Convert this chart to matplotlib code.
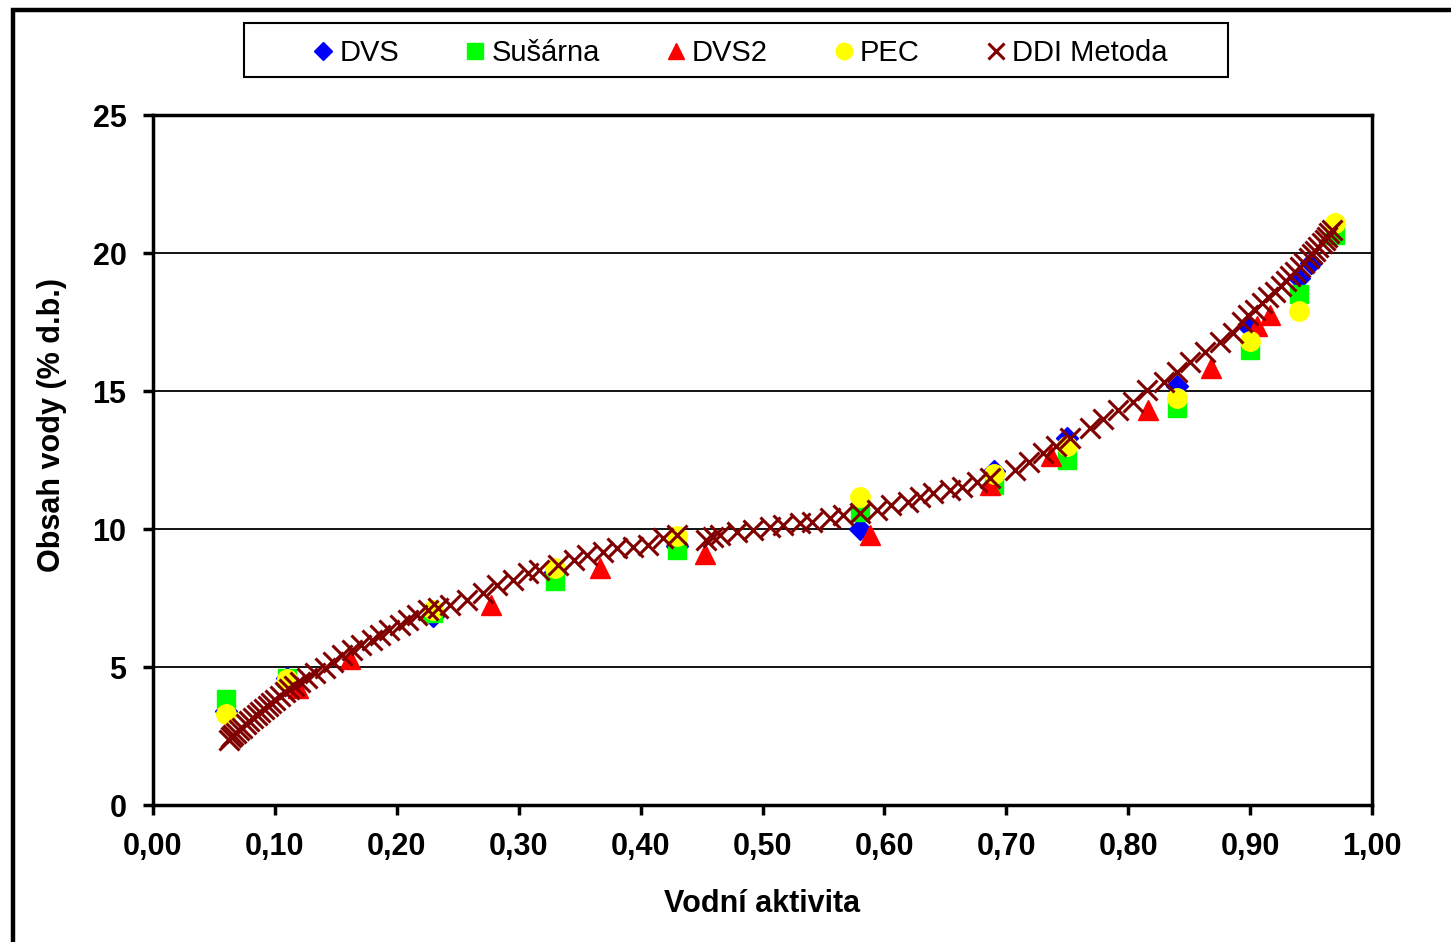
import matplotlib
matplotlib.use("Agg")
import matplotlib.pyplot as plt
import matplotlib.patches as patches
from matplotlib.ticker import FuncFormatter

plt.rcParams['font.family'] = ['Liberation Sans', 'DejaVu Sans']

# --- sorption isotherm data (aw, water content % d.b.) ---
dvs_aw = [0.06, 0.11, 0.23, 0.33, 0.43, 0.58, 0.69, 0.75, 0.84, 0.90, 0.94, 0.95]
dvs_mc = [3.4, 4.6, 6.85, 8.45, 9.4, 10.0, 12.1, 13.3, 15.2, 17.3, 19.1, 19.65]

susarna_aw = [0.06, 0.11, 0.23, 0.33, 0.43, 0.58, 0.69, 0.75, 0.84, 0.90, 0.94, 0.97]
susarna_mc = [3.85, 4.6, 6.95, 8.1, 9.25, 10.6, 11.6, 12.5, 14.4, 16.5, 18.5, 20.65]

dvs2_aw = [0.119, 0.162, 0.277, 0.367, 0.453, 0.588, 0.687, 0.737, 0.816, 0.868, 0.906, 0.916]
dvs2_mc = [4.25, 5.3, 7.25, 8.6, 9.1, 9.8, 11.6, 12.65, 14.3, 15.85, 17.35, 17.75]

pec_aw = [0.06, 0.11, 0.23, 0.33, 0.43, 0.58, 0.69, 0.75, 0.84, 0.90, 0.94, 0.97]
pec_mc = [3.3, 4.55, 7.05, 8.6, 9.75, 11.15, 12.0, 13.0, 14.75, 16.8, 17.9, 21.1]

ddi_aw = [0.062, 0.064, 0.066, 0.068, 0.071, 0.073, 0.076, 0.079, 0.082, 0.085,
          0.088, 0.091, 0.094, 0.097, 0.100, 0.104, 0.108, 0.112, 0.116, 0.121,
          0.126, 0.133, 0.141, 0.148, 0.155, 0.163, 0.171, 0.180, 0.186, 0.194,
          0.203, 0.209, 0.217, 0.226, 0.234, 0.244, 0.258, 0.271, 0.282, 0.295,
          0.308, 0.317, 0.332, 0.345, 0.356, 0.369, 0.381, 0.394, 0.406, 0.418,
          0.430, 0.454, 0.459, 0.465, 0.479, 0.492, 0.506, 0.517, 0.531, 0.541,
          0.555, 0.566, 0.580, 0.594, 0.605, 0.619, 0.629, 0.640, 0.654, 0.664,
          0.676, 0.687, 0.707, 0.719, 0.730, 0.741, 0.752, 0.769, 0.779, 0.792,
          0.804, 0.815, 0.829, 0.840, 0.851, 0.863, 0.875, 0.886, 0.893, 0.898,
          0.904, 0.910, 0.915, 0.920, 0.925, 0.929, 0.933, 0.937, 0.941, 0.944,
          0.948, 0.951, 0.953, 0.956, 0.959, 0.961, 0.963, 0.965, 0.967]
ddi_mc = [2.36, 2.45, 2.53, 2.62, 2.72, 2.80, 2.92, 3.03, 3.15, 3.27,
          3.38, 3.49, 3.60, 3.71, 3.82, 3.95, 4.08, 4.20, 4.31, 4.46,
          4.60, 4.78, 4.96, 5.18, 5.43, 5.62, 5.80, 5.98, 6.16, 6.34,
          6.52, 6.70, 6.88, 7.07, 7.14, 7.25, 7.43, 7.68, 7.97, 8.15,
          8.40, 8.50, 8.70, 8.88, 9.05, 9.17, 9.30, 9.35, 9.42, 9.67,
          9.78, 9.60, 9.71, 9.78, 9.89, 9.96, 10.07, 10.14, 10.22, 10.25,
          10.40, 10.50, 10.58, 10.69, 10.87, 10.98, 11.16, 11.30, 11.41, 11.52,
          11.70, 11.85, 12.14, 12.43, 12.75, 13.00, 13.30, 13.66, 14.00, 14.30,
          14.60, 15.04, 15.33, 15.69, 16.05, 16.41, 16.78, 17.10, 17.50, 17.75,
          17.93, 18.19, 18.40, 18.59, 18.80, 18.99, 19.17, 19.31, 19.49, 19.64,
          19.82, 19.96, 20.07, 20.22, 20.36, 20.47, 20.58, 20.72, 20.83]

x_ticks = [0.0, 0.1, 0.2, 0.3, 0.4, 0.5, 0.6, 0.7, 0.8, 0.9, 1.0]
y_ticks = [0, 5, 10, 15, 20, 25]

fig = plt.figure(figsize=(14.51, 9.42), dpi=100)
ax = fig.add_axes([0.1054, 0.1454, 0.8402, 0.7325])

ax.plot(dvs_aw, dvs_mc, linestyle='none', marker='D', ms=11, color='#0000ff',
        markeredgecolor='#0000ff', label='DVS', zorder=3)
ax.plot(susarna_aw, susarna_mc, linestyle='none', marker='s', ms=13, color='#00ff00',
        markeredgecolor='#00ff00', label='Sušárna', zorder=4)
ax.plot(dvs2_aw, dvs2_mc, linestyle='none', marker='^', ms=14, color='#ff0000',
        markeredgecolor='#ff0000', label='DVS2', zorder=5)
ax.plot(pec_aw, pec_mc, linestyle='none', marker='o', ms=14, color='#ffff00',
        markeredgecolor='#ffff00', label='PEC', zorder=6)
ax.plot(ddi_aw, ddi_mc, linestyle='none', marker='x', ms=14, mew=2.2, color='#800000',
        label='DDI Metoda', zorder=7)

ax.set_xlim(0, 1.0)
ax.set_ylim(0, 25)
ax.set_xticks(x_ticks)
ax.set_yticks(y_ticks)
ax.xaxis.set_major_formatter(FuncFormatter(lambda v, p: ('%.2f' % v).replace('.', ',')))
ax.yaxis.set_major_formatter(FuncFormatter(lambda v, p: '%d' % v))
ax.tick_params(axis='both', direction='out', length=7, width=2.5, labelsize=22)
ax.tick_params(axis='x', pad=12.5)
ax.tick_params(axis='y', pad=12)
for lbl in ax.get_xticklabels() + ax.get_yticklabels():
    lbl.set_fontweight('bold')

for s in ax.spines.values():
    s.set_linewidth(2.5)
    s.set_color('black')

ax.yaxis.grid(True, color='black', linewidth=1.3)
ax.set_axisbelow(True)

ax.set_xlabel('Vodní aktivita', fontsize=22, fontweight='bold')
ax.set_ylabel('Obsah vody (% d.b.)', fontsize=22, fontweight='bold')
ax.xaxis.set_label_coords(0.5, -0.122)
ax.yaxis.set_label_coords(-0.0705, 0.551)

# legend entries without frame, the box is drawn separately (wide side padding)
leg = fig.legend(loc='center', bbox_to_anchor=(741 / 1451, 1 - 53 / 942), ncol=5,
                 fontsize=21, frameon=False,
                 handlelength=0.6, handletextpad=0.25, columnspacing=2.31,
                 borderpad=0, borderaxespad=0)
for h in leg.legend_handles:
    h.set_markersize(h.get_markersize() * 0.85)

fig.patches.append(patches.Rectangle((244 / 1451, 1 - 77 / 942), 984 / 1451, 54 / 942,
                                     transform=fig.transFigure, fill=False,
                                     edgecolor='black', linewidth=1.5))

# outer chart frame (runs off the right and bottom edges)
fig.patches.append(patches.Rectangle((12.5 / 1451, -0.05), 1.1, 1.05 - 9.5 / 942,
                                     transform=fig.transFigure, fill=False,
                                     edgecolor='black', linewidth=3.2))

fig.savefig('out.png', dpi=100)
